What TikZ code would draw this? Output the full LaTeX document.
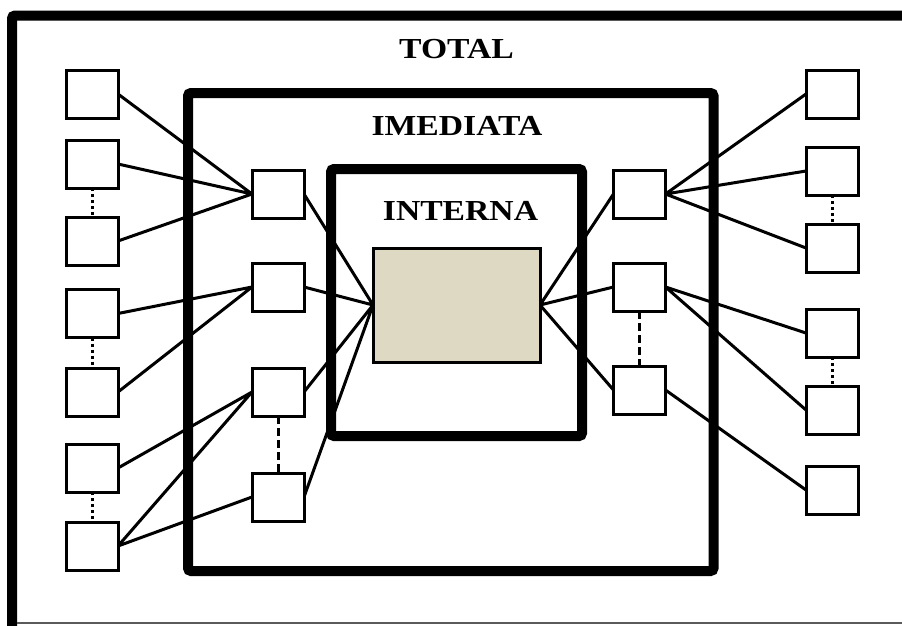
\documentclass[tikz,border=0pt]{standalone}
\usepackage{fontspec}
\newfontfamily\lblfont[FakeStretch=1.16]{Liberation Serif}
\definecolor{coretan}{RGB}{221,217,195}
\definecolor{edgegray}{RGB}{90,90,90}
\tikzset{
  frame/.style={draw=black,line width=10pt,rounded corners=3pt},
  unit/.style={draw=black,fill=white,line width=3pt,minimum width=49pt,minimum height=45pt,inner sep=0pt},
  core/.style={draw=black,fill=coretan,line width=3pt,minimum width=164pt,minimum height=111pt,inner sep=0pt},
  link/.style={draw=black,line width=3pt},
  dotlink/.style={draw=black,line width=3pt,dash pattern=on 3pt off 3pt},
  dashlink/.style={draw=black,line width=3pt,dash pattern=on 8pt off 4pt},
  title/.style={font=\lblfont\bfseries\fontsize{29}{32}\selectfont,inner sep=0pt,anchor=base}
}
\begin{document}
\begin{tikzpicture}[x=1pt,y=-1pt]
\useasboundingbox (0,0) rectangle (902,625);
\clip (0,0) rectangle (902,625);
\fill[white] (0,0) rectangle (902,625);

% outer frame (open towards the right and bottom)
\draw[frame] (12,640) -- (12,15.5) -- (930,15.5);
\draw[edgegray,line width=1.5pt] (17,623) -- (902,623);

% nested frames
\draw[frame] (188,93) rectangle (713.5,571);
\draw[frame] (331,169) rectangle (582,436);

% labels
\node[title] (ttotal) at (456.5,58) {TOTAL};
\node[title] (timed) at (457,135) {IMEDIATA};
\node[title] (tint) at (460.5,220) {INTERNA};

% core
\node[core] (core) at (456.5,305) {};

% outer left column
\node[unit] (L1) at (92,94) {};
\node[unit] (L2) at (92,164) {};
\node[unit] (L3) at (92,241) {};
\node[unit] (L4) at (92,313.5) {};
\node[unit] (L5) at (92,392) {};
\node[unit] (L6) at (92,468) {};
\node[unit] (L7) at (92,546) {};

% inner left column
\node[unit] (ML1) at (278,194) {};
\node[unit] (ML2) at (278,287) {};
\node[unit] (ML3) at (278,392) {};
\node[unit] (ML4) at (278,497) {};

% inner right column
\node[unit] (MR1) at (639.5,194) {};
\node[unit] (MR2) at (639.5,287) {};
\node[unit] (MR3) at (639.5,390) {};

% outer right column
\node[unit] (R1) at (832,94) {};
\node[unit] (R2) at (832,171) {};
\node[unit] (R3) at (832,248) {};
\node[unit] (R4) at (832,333) {};
\node[unit] (R5) at (832,410) {};
\node[unit] (R6) at (832,490) {};

% connectors
\path[link]
  (L1.east) -- (ML1.west)
  (L2.east) -- (ML1.west)
  (L3.east) -- (ML1.west)
  (L4.east) -- (ML2.west)
  (L5.east) -- (ML2.west)
  (L6.east) -- (ML3.west)
  (L7.east) -- (ML3.west)
  (L7.east) -- (ML4.west)
  (ML1.east) -- (core.west)
  (ML2.east) -- (core.west)
  (ML3.east) -- (core.west)
  (ML4.east) -- (core.west)
  (core.east) -- (MR1.west)
  (core.east) -- (MR2.west)
  (core.east) -- (MR3.west)
  (MR1.east) -- (R1.west)
  (MR1.east) -- (R2.west)
  (MR1.east) -- (R3.west)
  (MR2.east) -- (R4.west)
  (MR2.east) -- (R5.west)
  (MR3.east) -- (R6.west);

% boxes redrawn on top of the connectors
\foreach \n in {L1,L2,L3,L4,L5,L6,L7,ML1,ML2,ML3,ML4,MR1,MR2,MR3,R1,R2,R3,R4,R5,R6}
  \draw[black,fill=white,line width=3pt] (\n.south west) rectangle (\n.north east);
\draw[black,fill=coretan,line width=3pt] (core.south west) rectangle (core.north east);

% elided members
\path[dotlink] (L2.south) -- (L3.north);
\path[dotlink] (L4.south) -- (L5.north);
\path[dotlink] (L6.south) -- (L7.north);
\path[dotlink] (R2.south) -- (R3.north);
\path[dotlink] (R4.south) -- (R5.north);
\path[dashlink] (ML3.south) -- (ML4.north);
\path[dashlink] (MR2.south) -- (MR3.north);
\end{tikzpicture}
\end{document}
